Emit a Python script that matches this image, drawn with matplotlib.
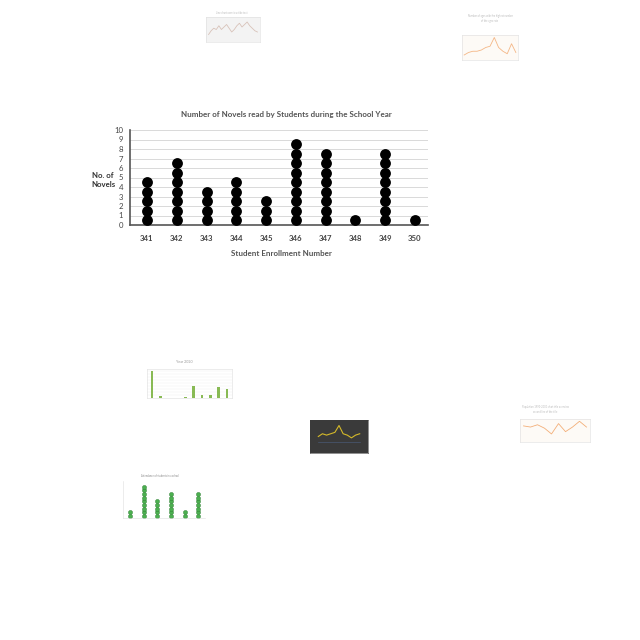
import matplotlib.pyplot as plt
import numpy as np

plt.rcParams['font.family'] = ['Lato', 'DejaVu Sans']

# --- main dot plot data ---
students = ['341', '342', '343', '344', '345', '346', '347', '348', '349', '350']
novels = [5, 7, 4, 5, 3, 9, 8, 1, 8, 1]
y_ticks = list(range(0, 11))

# --- thumbnail data (faint charts scattered around the page) ---
thumb_gray = [3, 4.5, 5.5, 5, 6.5, 5, 6, 7, 5.5, 4, 5, 6.5, 7.5, 6, 7, 8, 6.5, 5.5, 4.5, 4]
thumb_orange = [2, 3, 3.5, 3.5, 4, 5, 5.5, 9, 5, 3.5, 2.5, 6.5, 3]
bar_labels = ['A', 'B', 'C', 'D', 'E', 'F', 'G', 'H', 'I', 'J']
bar_values = [900, 60, 5, 5, 25, 380, 110, 100, 350, 280]
dark_line = [4, 5, 4.5, 5, 5.5, 8, 5, 4.5, 3.5, 4.5, 5]
dark_line2 = [2, 2, 2, 2, 2, 2, 2, 2, 2, 2, 2]
orange2 = [7, 6.5, 7.5, 6, 3.5, 8, 4.5, 6.5, 9, 6.5]
green_counts = [2, 9, 5, 7, 2, 7]
green_labels = ['1-2', '3-4', '5-6', '7-8', '9-10', '11-12']

fig = plt.figure(figsize=(6.4, 6.4), dpi=100)
W = H = 640.0


def px_axes(x0, y0, x1, y1, **kw):
    # place axes using pixel coordinates (top-left origin)
    return fig.add_axes([x0 / W, 1 - y1 / H, (x1 - x0) / W, (y1 - y0) / H], **kw)


# --- main chart ---
ax = px_axes(130, 130, 428, 225)
x = np.arange(len(students))
for xi, n in zip(x, novels):
    ys = np.arange(n) + 0.5
    ax.plot([xi] * n, ys, 'o', color='black', markersize=7.8, markeredgewidth=0, zorder=3)

ax.set_ylim(0, 10)
ax.set_xlim(-0.57, 9.44)
ax.set_yticks(y_ticks)
ax.set_yticklabels([str(t) for t in y_ticks], fontsize=5.6, color='#444444')
ax.set_xticks(x)
ax.set_xticklabels(students, fontsize=5.6, color='#444444', fontweight='bold')
ax.tick_params(axis='both', length=0, pad=7)
ax.tick_params(axis='y', pad=5)
ax.grid(axis='y', color='#d9d9d9', linewidth=0.7)
ax.set_axisbelow(True)
for s in ['top', 'right']:
    ax.spines[s].set_visible(False)
ax.spines['left'].set_color('#555555')
ax.spines['left'].set_linewidth(1.2)
ax.spines['bottom'].set_color('#555555')
ax.spines['bottom'].set_linewidth(1.2)

fig.text(286 / W, 1 - 115 / H, 'Number of Novels read by Students during the School Year',
         ha='center', va='center', fontsize=5.8, fontweight='bold', color='#555555')
fig.text(103 / W, 1 - 180 / H, 'No. of\nNovels', ha='center', va='center',
         fontsize=5.6, fontweight='bold', color='#333333', linespacing=1.3)
fig.text(281 / W, 1 - 253 / H, 'Student Enrollment Number', ha='center', va='center',
         fontsize=5.8, fontweight='bold', color='#555555')

# --- faint thumbnails ---
fade = 0.45


def tidy(a, bg='white', spine='#dddddd'):
    a.set_facecolor(bg)
    a.set_xticks([])
    a.set_yticks([])
    for s in a.spines.values():
        s.set_color(spine)
        s.set_linewidth(0.4)


# thumb 1: gray line chart
a1 = px_axes(206, 17, 260, 42)
tidy(a1, bg='#f3f3f3')
a1.plot(thumb_gray, color='#c9a89a', lw=0.6, alpha=fade + 0.2)
a1.set_xlim(-1, len(thumb_gray))
a1.set_ylim(0, 10)
fig.text(232 / W, 1 - 13.5 / H, 'Line chart overview title text', ha='center', fontsize=1.8,
         color='#bbbbbb')

# thumb 2: orange line chart
a2 = px_axes(462, 35, 518, 60)
tidy(a2, bg='#fdfaf6')
a2.plot(thumb_orange, color='#f2a66a', lw=0.6, alpha=0.8)
a2.set_xlim(-0.5, len(thumb_orange) - 0.5)
a2.set_ylim(0, 10)
a2.grid(color='#eeeeee', lw=0.3)
fig.text(490 / W, 1 - 22 / H, 'Number of ages with the highest number\nof the ages rate', ha='center',
         fontsize=1.8, color='#bbbbbb')

# thumb 3: green bars
a3 = px_axes(147, 369, 232, 398)
tidy(a3)
a3.bar(np.arange(len(bar_values)), bar_values, width=0.3, color='#7cb342', alpha=0.9)
a3.set_ylim(0, 950)
a3.set_xlim(-0.6, len(bar_values) - 0.4)
for yv in range(100, 1000, 100):
    a3.axhline(yv, color='#eeeeee', lw=0.3, zorder=0)
fig.text(184 / W, 1 - 363 / H, 'Year 2020', ha='center', fontsize=2.6, color='#999999')

# thumb 4: dark line chart
a4 = px_axes(310, 420, 368, 453)
tidy(a4, bg='#3a3a3a', spine='#3a3a3a')
a4.plot(dark_line, color='#d4b92a', lw=0.8)
a4.plot(dark_line2, color='#5b7bb5', lw=0.4, alpha=0.6)
a4.set_xlim(-2, len(dark_line) + 1)
a4.set_ylim(-2, 10)

# thumb 5: orange line chart
a5 = px_axes(520, 419, 590, 442)
tidy(a5, bg='#fdfaf6')
a5.plot(orange2, color='#f2a66a', lw=0.6, alpha=0.9)
a5.set_xlim(-0.5, len(orange2) - 0.5)
a5.set_ylim(0, 10)
a5.grid(color='#eeeeee', lw=0.3)
fig.text(545 / W, 1 - 413 / H, 'Population 1990-2000 chart title overview\nsecond line of the title',
         ha='center', fontsize=1.8, color='#bbbbbb')

# thumb 6: green dot plot
a6 = px_axes(123, 481, 205, 518)
tidy(a6)
for i, n in enumerate(green_counts):
    a6.plot([i] * n, np.arange(n) + 0.5, 'o', color='#4caf50', markersize=3.0,
            markeredgewidth=0.3, markeredgecolor='#2e7d32')
a6.set_xlim(-0.5, len(green_counts) - 0.5)
a6.set_ylim(0, 10)
a6.spines['top'].set_visible(False)
a6.spines['right'].set_visible(False)
fig.text(160 / W, 1 - 477 / H, 'Attendance of students in a school', ha='center',
         fontsize=1.8, color='#888888')

fig.savefig('out.png', dpi=100, facecolor='white')
